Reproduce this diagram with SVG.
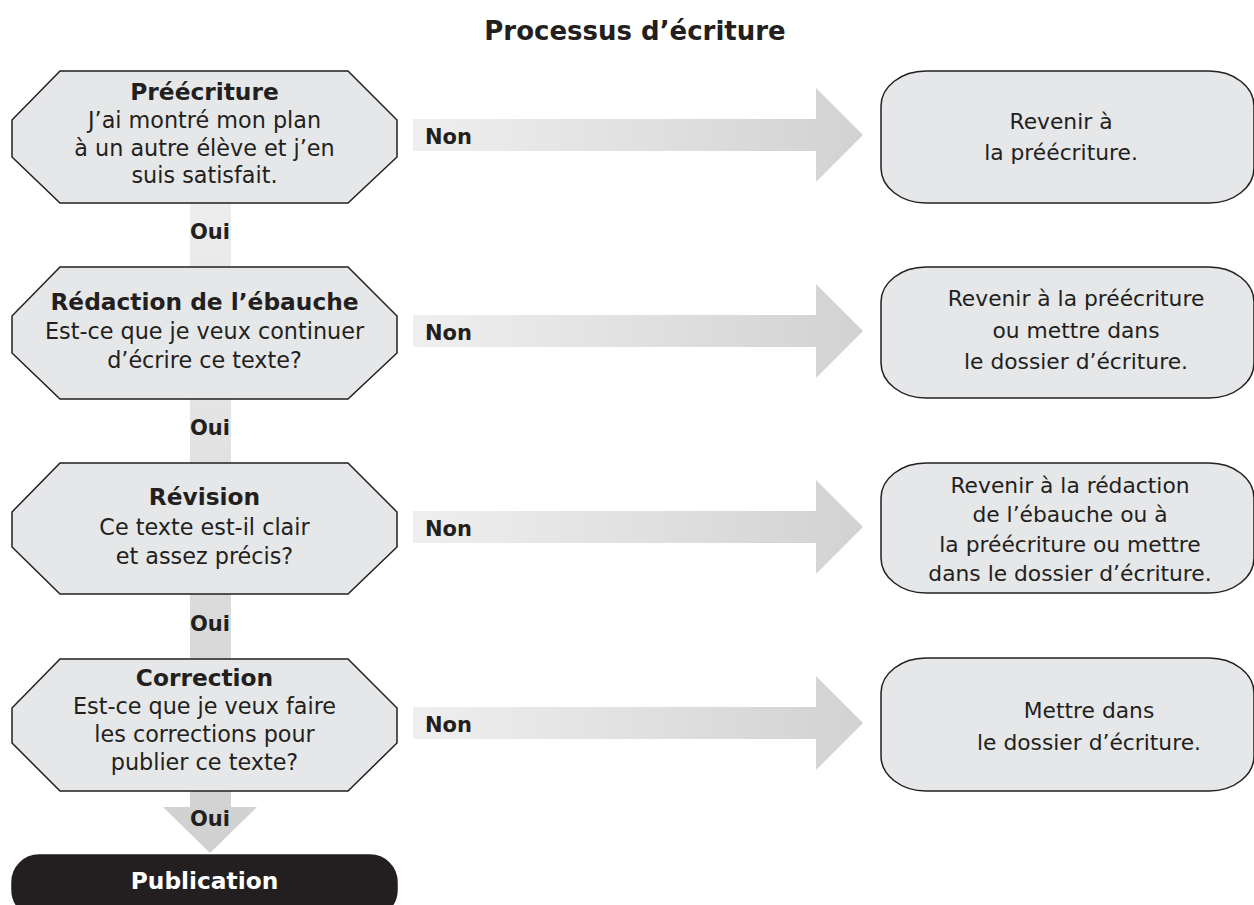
<svg xmlns="http://www.w3.org/2000/svg" width="1254" height="905" viewBox="0 0 1254 905">
  <defs>
    <linearGradient id="hgrad" x1="0" y1="0" x2="1" y2="0">
      <stop offset="0" stop-color="#efefef"/>
      <stop offset="1" stop-color="#d2d2d3"/>
    </linearGradient>
    <linearGradient id="vgrad" gradientUnits="userSpaceOnUse" x1="0" y1="203" x2="0" y2="853">
      <stop offset="0" stop-color="#ededed"/>
      <stop offset="1" stop-color="#d0d0d1"/>
    </linearGradient>
  </defs>
  <style>
    text { font-variant-ligatures: none; }
    .oct { fill: #e6e7e8; stroke: #231f20; stroke-width: 1.5; }
    .box { fill: #e6e7e8; stroke: #231f20; stroke-width: 1.5; }
    .pub { fill: #231f20; stroke: #231f20; stroke-width: 1.5; }
    .t { font-family: "DejaVu Sans", Verdana, sans-serif; font-size: 22.3px; fill: #231f20; text-anchor: middle; }
    .r { font-family: "DejaVu Sans", Verdana, sans-serif; font-size: 21.8px; fill: #231f20; text-anchor: middle; }
    .b { font-family: "DejaVu Sans", Verdana, sans-serif; font-weight: 700; font-size: 23.3px; fill: #231f20; text-anchor: middle; }
    .lbl { font-family: "DejaVu Sans", Verdana, sans-serif; font-weight: 700; font-size: 21px; fill: #231f20; }
    .title { font-family: "DejaVu Sans", Verdana, sans-serif; font-weight: 700; font-size: 26px; fill: #231f20; text-anchor: middle; }
    .harrow { fill: url(#hgrad); }
    .vbar { fill: url(#vgrad); }
  </style>
  <rect width="1254" height="905" fill="#ffffff"/>
  <text class="title" x="635" y="40">Processus d’écriture</text>

  <g id="connectors">
    <rect class="vbar" x="190" y="203" width="41" height="64"/>
    <rect class="vbar" x="190" y="399" width="41" height="64"/>
    <rect class="vbar" x="190" y="594" width="41" height="65"/>
    <path class="vbar" d="M190,791 V807 H163 L210,853 L257,807 H231 V791 Z"/>
    <polygon class="harrow" points="413,119 816,119 816,88 863,135 816,182 816,151 413,151"/>
    <polygon class="harrow" points="413,315 816,315 816,284 863,331 816,378 816,347 413,347"/>
    <polygon class="harrow" points="413,511 816,511 816,480 863,527 816,574 816,543 413,543"/>
    <polygon class="harrow" points="413,707 816,707 816,676 863,723 816,770 816,739 413,739"/>
    <text class="lbl" x="425" y="144">Non</text>
    <text class="lbl" x="425" y="340">Non</text>
    <text class="lbl" x="425" y="536">Non</text>
    <text class="lbl" x="425" y="732">Non</text>
    <text class="lbl" x="210" y="239" text-anchor="middle">Oui</text>
    <text class="lbl" x="210" y="435" text-anchor="middle">Oui</text>
    <text class="lbl" x="210" y="631" text-anchor="middle">Oui</text>
    <text class="lbl" x="210" y="826" text-anchor="middle">Oui</text>
  </g>

  <g id="prewriting">
    <polygon class="oct" points="60,71 348,71 397,120 397,157 348,203 60,203 12,157 12,120"/>
    <text class="b" x="204.5" y="100">Préécriture</text>
    <text class="t" x="204.5" y="128">J’ai montré mon plan</text>
    <text class="t" x="204.5" y="156">à un autre élève et j’en</text>
    <text class="t" x="204.5" y="183">suis satisfait.</text>
  </g>

  <g id="drafting">
    <polygon class="oct" points="60,267 348,267 397,316 397,353 348,399 60,399 12,353 12,316"/>
    <text class="b" x="204.5" y="310">Rédaction de l’ébauche</text>
    <text class="t" x="204.5" y="339">Est-ce que je veux continuer</text>
    <text class="t" x="204.5" y="368">d’écrire ce texte?</text>
  </g>

  <g id="revision">
    <polygon class="oct" points="60,463 348,463 397,512 397,547 348,594 60,594 12,547 12,512"/>
    <text class="b" x="204.5" y="505">Révision</text>
    <text class="t" x="204.5" y="535">Ce texte est-il clair</text>
    <text class="t" x="204.5" y="564">et assez précis?</text>
  </g>

  <g id="correction">
    <polygon class="oct" points="60,659 348,659 397,708 397,743 348,791 60,791 12,743 12,708"/>
    <text class="b" x="204.5" y="686">Correction</text>
    <text class="t" x="204.5" y="714">Est-ce que je veux faire</text>
    <text class="t" x="204.5" y="742">les corrections pour</text>
    <text class="t" x="204.5" y="770">publier ce texte?</text>
  </g>

  <g id="publication">
    <rect class="pub" x="12" y="855" width="385" height="62" rx="27" ry="27"/>
    <text class="b" x="204.5" y="889" style="fill:#ffffff">Publication</text>
  </g>

  <g id="back1">
    <rect class="box" x="881" y="71" width="373" height="132" rx="45" ry="35"/>
    <text class="r" x="1061" y="129">Revenir à</text>
    <text class="r" x="1061" y="160">la préécriture.</text>
  </g>

  <g id="back2">
    <rect class="box" x="881" y="267" width="373" height="131" rx="45" ry="35"/>
    <text class="r" x="1076" y="306">Revenir à la préécriture</text>
    <text class="r" x="1076" y="338">ou mettre dans</text>
    <text class="r" x="1076" y="369">le dossier d’écriture.</text>
  </g>

  <g id="back3">
    <rect class="box" x="881" y="463" width="373" height="130" rx="45" ry="35"/>
    <text class="r" x="1070" y="493">Revenir à la rédaction</text>
    <text class="r" x="1070" y="522">de l’ébauche ou à</text>
    <text class="r" x="1070" y="552">la préécriture ou mettre</text>
    <text class="r" x="1070" y="581">dans le dossier d’écriture.</text>
  </g>

  <g id="back4">
    <rect class="box" x="881" y="658" width="373" height="133" rx="45" ry="35"/>
    <text class="r" x="1089" y="718">Mettre dans</text>
    <text class="r" x="1089" y="750">le dossier d’écriture.</text>
  </g>
</svg>
